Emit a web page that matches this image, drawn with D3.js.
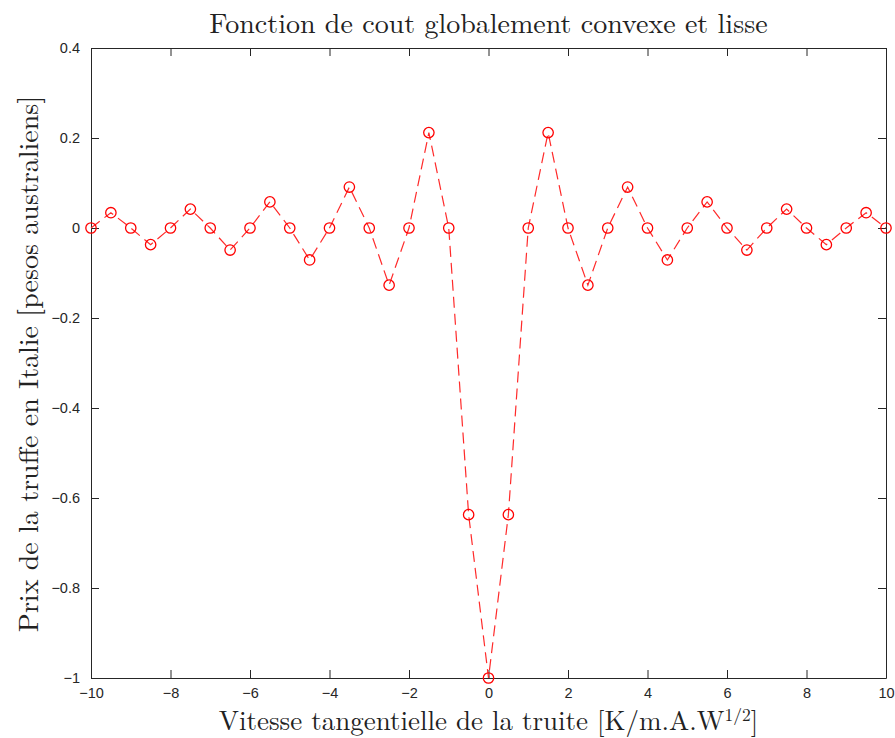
<!DOCTYPE html>
<html>
<head>
<meta charset="utf-8">
<script src="https://cdn.jsdelivr.net/npm/d3@7"></script>
<style>
  body { margin: 0; background: #fff; }
</style>
</head>
<body>
<div id="chart"></div>
<script>
// Values: x from -10 to 10 every 0.5.
var xValues = [-10, -9.5, -9, -8.5, -8, -7.5, -7, -6.5, -6, -5.5, -5, -4.5, -4, -3.5, -3, -2.5, -2, -1.5, -1, -0.5,
               0, 0.5, 1, 1.5, 2, 2.5, 3, 3.5, 4, 4.5, 5, 5.5, 6, 6.5, 7, 7.5, 8, 8.5, 9, 9.5, 10];
var yValues = [0, 0.034, 0, -0.037, 0, 0.042, 0, -0.049, 0, 0.058, 0, -0.071, 0, 0.091, 0, -0.127, 0, 0.212, 0, -0.637,
               -1, -0.637, 0, 0.212, 0, -0.127, 0, 0.091, 0, -0.071, 0, 0.058, 0, -0.049, 0, 0.042, 0, -0.037, 0, 0.034, 0];
var xTicks = [-10, -8, -6, -4, -2, 0, 2, 4, 6, 8, 10];
var yTicks = [-1, -0.8, -0.6, -0.4, -0.2, 0, 0.2, 0.4];

var data = xValues.map(function(x, i) { return { x: x, y: yValues[i] }; });

var width = 895,
    height = 738;
var margin = ({ top: 48, right: 9, bottom: 60, left: 91 }),
    iwidth = width - margin.left - margin.right,
    iheight = height - margin.top - margin.bottom;

var svg = d3.select("#chart")
    .append("svg")
    .attr("width", width)
    .attr("height", height);

var g = svg.append("g")
    .attr("transform", `translate(${margin.left}, ${margin.top})`);

var x = d3.scaleLinear().domain([-10, 10]).range([0, iwidth]);
var y = d3.scaleLinear().domain([-1, 0.4]).range([iheight, 0]);

var axisColor = "#262626";
var tickFont = "'Liberation Sans', Arial, sans-serif";
var serif = "'Latin Modern Roman', 'DejaVu Serif', 'Liberation Serif', serif";

// Axes with inner ticks, mirrored on top and right.
function styleAxis(sel) {
    sel.select(".domain").attr("stroke", axisColor);
    sel.selectAll(".tick line").attr("stroke", axisColor);
    sel.selectAll(".tick text")
        .attr("fill", axisColor)
        .style("font-family", tickFont)
        .style("font-size", "14.5px");
}

g.append("g")
    .attr("transform", `translate(0, ${iheight})`)
    .call(d3.axisBottom(x).tickValues(xTicks).tickSize(-8).tickPadding(10).tickSizeOuter(0)
        .tickFormat(d3.format("d")))
    .call(styleAxis);

g.append("g")
    .call(d3.axisTop(x).tickValues(xTicks).tickSize(-8).tickFormat("").tickSizeOuter(0))
    .call(styleAxis);

g.append("g")
    .call(d3.axisLeft(y).tickValues(yTicks).tickSize(-8).tickPadding(11).tickSizeOuter(0)
        .tickFormat(function(d) { return d === 0 ? "0" : d3.format("")(+d.toFixed(1)); }))
    .call(styleAxis);

g.append("g")
    .attr("transform", `translate(${iwidth}, 0)`)
    .call(d3.axisRight(y).tickValues(yTicks).tickSize(-8).tickFormat("").tickSizeOuter(0))
    .call(styleAxis);

// Dashed line.
var line = d3.line()
    .x(function(d) { return x(d.x); })
    .y(function(d) { return y(d.y); });

g.append("path")
    .datum(data)
    .attr("d", line)
    .attr("fill", "none")
    .attr("stroke", "#ff2a2a")
    .attr("stroke-width", 1.2)
    .attr("stroke-dasharray", "11,6");

// Circle markers.
g.selectAll("circle")
    .data(data)
    .enter()
    .append("circle")
    .attr("cx", function(d) { return x(d.x); })
    .attr("cy", function(d) { return y(d.y); })
    .attr("r", 5.2)
    .attr("fill", "none")
    .attr("stroke", "#ff0000")
    .attr("stroke-width", 1.3);

// Title and labels.
svg.append("text")
    .attr("x", margin.left + iwidth / 2)
    .attr("y", 33)
    .attr("text-anchor", "middle")
    .style("font-family", serif)
    .style("font-size", "28px")
    .attr("fill", "#222")
    .text("Fonction de cout globalement convexe et lisse");

var xl = svg.append("text")
    .attr("x", margin.left + iwidth / 2)
    .attr("y", 730)
    .attr("text-anchor", "middle")
    .style("font-family", serif)
    .style("font-size", "27px")
    .attr("fill", "#222");
xl.append("tspan").text("Vitesse tangentielle de la truite [K/m.A.W");
xl.append("tspan").attr("dy", -9).style("font-size", "17.5px").text("1/2");
xl.append("tspan").attr("dy", 9).text("]");

svg.append("text")
    .attr("transform", `translate(38, ${margin.top + iheight / 2 + 1}) rotate(-90)`)
    .attr("text-anchor", "middle")
    .style("font-family", serif)
    .style("font-size", "28px")
    .attr("fill", "#222")
    .text("Prix de la truffe en Italie [pesos australiens]");
</script>
</body>
</html>
